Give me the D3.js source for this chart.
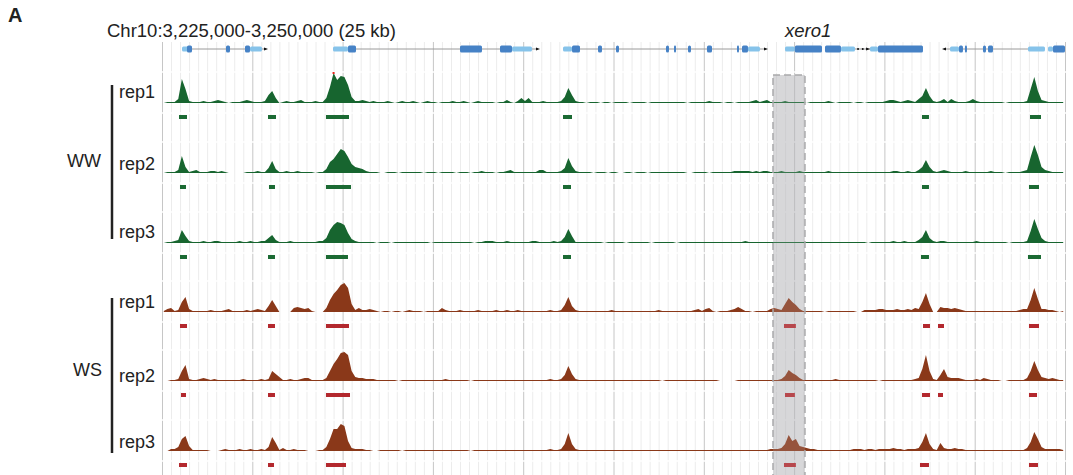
<!DOCTYPE html>
<html>
<head>
<meta charset="utf-8">
<script src="https://cdn.jsdelivr.net/npm/d3@7"></script>
<style>
  body { margin: 0; background: #fff; }
  svg { display: block; font-family: "Liberation Sans", Arial, sans-serif; }
</style>
</head>
<body>
<div id="chart"></div>
<script>
// region shown
const regionStart = 3225000, regionEnd = 3250000, binSize = 100

// coverage, 100 bp bins (250 per track)
const wwRep1 = [
  0,1,1,1,4,24,14,2,1,1, 1,2,1,1,2,3,2,1,0,1, 1,1,2,3,2,1,1,1,2,8, 12,5,0,1,2,1,1,2,3,1,
  1,1,2,1,1,5,16,30,23,27, 26,18,6,2,2,3,2,1,2,1, 1,1,2,1,0,1,2,1,1,2, 1,0,1,2,1,1,0,1,1,1,
  2,1,1,2,1,0,1,2,1,1, 1,1,0,1,1,3,1,0,2,5, 2,5,1,1,1,2,1,1,1,1, 2,6,15,8,2,1,1,0,1,1,
  1,0,1,1,0,1,1,1,1,0, 1,1,1,1,0,1,1,1,1,1, 1,1,1,1,1,0,1,1,1,1, 1,2,1,1,1,0,1,1,0,1,
  1,1,1,2,3,1,2,3,1,1, 1,1,2,1,1,1,1,1,0,1, 1,1,1,1,2,1,0,1,1,1, 1,0,1,1,0,1,1,1,1,1,
  2,3,3,2,1,2,3,2,1,4, 7,15,7,2,1,2,4,1,4,2, 1,1,1,2,4,2,1,1,1,1, 1,1,1,0,1,1,1,1,1,2,
  14,26,12,3,2,1,1,1,1,1
]
const wwRep2 = [
  0,1,1,1,3,17,6,1,2,3, 1,1,1,2,2,1,2,1,0,0, 0,0,0,1,1,1,2,1,1,5, 12,4,1,1,2,1,1,2,1,1,
  1,1,0,1,1,4,11,14,19,24, 22,16,9,6,5,4,2,1,1,1, 0,0,1,1,1,0,1,1,1,1, 1,1,0,1,1,1,0,1,1,1,
  1,0,1,1,1,0,1,1,2,1, 1,1,0,1,1,2,3,1,1,1, 1,1,1,1,3,3,1,1,1,1, 2,5,15,7,2,1,1,1,1,0,
  1,1,1,0,1,1,0,0,1,1, 0,1,1,1,0,1,1,1,1,1, 1,1,1,1,1,0,0,1,1,1, 1,0,1,1,1,1,1,1,2,2,
  2,2,2,1,2,1,2,2,1,1, 1,2,1,1,1,1,2,1,1,1, 1,1,1,1,2,1,1,1,1,1, 1,1,1,1,1,1,1,1,1,1,
  1,1,2,2,1,1,2,1,1,3, 6,13,6,2,1,2,3,2,1,1, 1,1,2,1,1,1,1,1,1,2, 1,1,1,0,1,1,1,1,2,3,
  16,28,18,6,3,2,1,1,1,1
]
const wwRep3 = [
  0,1,1,2,3,13,7,2,1,1, 1,2,1,1,2,2,1,1,1,1, 1,2,1,1,2,1,1,2,2,5, 8,3,1,1,1,2,1,1,1,1,
  1,1,1,2,2,5,13,18,21,20, 18,10,4,2,1,1,1,1,1,0, 1,1,1,0,1,1,1,1,1,1, 1,1,1,1,0,1,1,1,1,1,
  1,1,1,1,1,1,0,1,1,2, 2,2,1,1,1,2,1,1,1,1, 1,1,2,2,1,1,1,1,2,1, 2,6,14,7,1,1,1,1,1,1,
  1,1,0,1,1,1,1,1,0,1, 1,1,1,1,1,0,1,1,1,1, 1,1,0,1,1,1,1,1,1,1, 1,1,1,1,1,1,1,1,1,1,
  1,2,1,1,1,1,1,1,1,1, 1,1,1,1,1,1,1,1,1,1, 1,1,1,1,1,1,1,1,1,1, 1,1,1,1,1,0,1,1,1,1,
  1,1,2,1,1,2,1,1,1,3, 6,13,5,2,1,2,2,1,1,1, 1,1,1,1,1,2,1,1,1,1, 1,1,1,1,0,1,1,1,1,2,
  12,24,14,5,2,1,1,1,1,1
]
const wsRep1 = [
  1,3,4,1,2,10,15,3,1,1, 1,1,1,2,1,1,1,2,3,1, 1,1,1,2,1,2,3,2,1,6, 12,6,0,0,0,0,4,5,4,3,
  4,1,0,0,0,4,12,18,22,27, 29,24,8,2,4,2,2,3,2,1, 0,1,1,0,1,1,0,1,2,1, 1,1,0,1,1,1,1,4,2,1,
  1,1,2,1,1,1,1,2,1,1, 1,1,2,1,1,2,1,1,2,1, 1,1,1,1,1,1,1,2,1,1, 2,7,15,6,2,1,1,1,1,1,
  1,1,1,1,2,1,1,1,1,1, 1,1,1,1,1,1,1,2,1,1, 1,1,1,1,1,1,1,2,3,1, 3,4,1,0,1,1,1,2,3,5,
  3,1,1,0,1,1,1,1,3,4, 3,2,8,14,10,7,3,1,1,1, 1,1,1,0,1,1,1,1,1,1, 1,1,0,0,2,2,2,2,3,3,
  2,2,2,3,2,2,3,2,4,3, 10,19,8,0,0,5,4,4,3,4, 3,2,1,1,1,1,1,1,1,1, 1,1,1,1,1,1,1,2,3,3,
  12,24,13,3,3,2,2,1,0,1
]
const wsRep2 = [
  0,0,1,1,2,10,16,2,1,1, 2,3,2,1,2,1,1,1,1,1, 1,1,2,1,1,1,1,2,1,2, 10,7,4,1,1,2,1,1,2,3,
  3,1,1,1,1,3,10,17,22,28, 29,26,10,4,3,3,2,2,2,1, 1,1,1,1,1,0,1,1,1,1, 1,1,1,1,1,1,1,1,2,1,
  1,1,1,1,1,0,1,1,1,1, 1,1,1,1,1,1,1,1,1,1, 1,1,1,1,1,1,1,2,1,1, 2,6,15,7,2,1,1,1,1,1,
  1,1,1,1,1,1,1,1,1,1, 1,1,1,1,1,1,1,1,0,1, 1,1,1,1,1,1,1,1,1,1, 1,1,1,1,0,0,0,0,0,1,
  1,1,1,1,1,1,1,1,1,1, 1,2,5,11,8,6,3,1,1,1, 1,1,1,1,1,1,2,1,1,1, 1,1,1,1,1,1,1,1,0,1,
  1,1,1,1,1,1,1,1,2,3, 12,26,10,2,1,6,12,4,3,3, 3,2,1,1,1,2,1,3,2,1, 1,1,0,0,1,1,1,1,1,3,
  10,20,11,4,3,2,3,2,1,1
]
const wsRep3 = [
  0,0,2,2,4,12,15,5,1,1, 1,1,1,0,0,0,1,2,1,1, 1,2,1,1,2,1,1,2,1,4, 14,8,1,3,1,1,2,1,1,1,
  0,0,0,1,1,4,12,22,22,27, 25,10,3,2,2,2,1,1,0,0, 1,1,1,1,1,1,0,1,1,1, 1,1,1,1,1,1,1,1,1,1,
  1,1,1,1,1,0,1,1,1,1, 1,1,1,1,1,1,1,1,1,1, 1,1,1,1,1,1,1,2,1,1, 2,7,18,7,2,1,1,1,1,1,
  1,1,1,1,1,1,1,1,1,1, 1,1,1,1,1,1,1,1,1,1, 1,1,1,1,1,1,1,1,1,1, 1,1,1,1,1,1,1,1,1,1,
  1,1,1,1,1,1,1,1,2,2, 2,3,7,16,10,12,5,4,3,2, 2,1,1,1,1,1,1,1,1,1, 1,2,2,2,1,2,2,1,2,2,
  2,2,3,2,2,1,2,2,2,3, 9,18,7,2,1,8,3,2,2,3, 2,2,1,1,1,1,1,1,1,1, 1,1,1,1,1,1,1,1,1,3,
  9,19,12,4,2,2,2,2,2,1
]

// called peaks [start, end]
const wwRep1Peaks = [[3225471,3225692],[3227935,3228156],[3229540,3230177],[3236102,3236351],[3246041,3246234],[3249031,3249335]]
const wwRep2Peaks = [[3225498,3225664],[3227962,3228128],[3229540,3230232],[3236102,3236323],[3246041,3246234],[3249003,3249280]]
const wwRep3Peaks = [[3225498,3225692],[3227935,3228128],[3229540,3230149],[3236102,3236323],[3246013,3246234],[3248975,3249335]]
const wsRep1Peaks = [[3225498,3225692],[3227935,3228128],[3229540,3230177],[3242220,3242549],[3246069,3246262],[3246484,3246650],[3249003,3249280]]
const wsRep2Peaks = [[3225526,3225664],[3227935,3228128],[3229540,3230205],[3242248,3242521],[3246041,3246262],[3246484,3246622],[3249003,3249225]]
const wsRep3Peaks = [[3225471,3225692],[3227935,3228101],[3229540,3230094],[3242220,3242549],[3245985,3246234],[3249003,3249252]]

// gene models
const genes = [
  {line: [3225692,3227852], utrs: [[3225554,3225803],[3227436,3227769]],
   exons: [[3225692,3225831],[3226772,3226883],[3227298,3227436]], arrows: [[3227852,1]], dots: []},
  {line: [3230149,3235382], utrs: [[3229734,3230149],[3234690,3235243]],
   exons: [[3230149,3230371],[3233250,3233859],[3234358,3234690]], arrows: [[3235382,1]], dots: []},
  {line: [3236351,3241694], utrs: [[3236102,3236351],[3241223,3241555]],
   exons: [[3236351,3236572],[3237071,3237181],[3237569,3237652],[3238953,3239036],[3239175,3239230],
           [3239562,3239645],[3240088,3240227],[3240919,3240974],[3241057,3241223]], arrows: [[3241694,1]], dots: []},
  {line: [3243798,3244601], utrs: [[3242248,3242521],[3243798,3244186],[3244601,3244822]],
   exons: [[3242521,3243272],[3243355,3243798],[3244822,3246068]], arrows: [[3244520,1]], dots: [3244270,3244400]},
  {line: [3246677,3248975], utrs: [[3246816,3247065],[3248975,3249446]],
   exons: [[3247065,3247175],[3247230,3247286],[3247729,3247812],[3247868,3248006]], arrows: [[3246677,-1]], dots: []},
  {line: [3249529,3250000], utrs: [[3249529,3249667]], exons: [[3249667,3250000]], arrows: [], dots: []}
]
const highlight = [3241916,3242801]

const groups = ["WW", "WS"]
const tracks = [
  {group: "WW", rep: "rep1", values: wwRep1, peaks: wwRep1Peaks},
  {group: "WW", rep: "rep2", values: wwRep2, peaks: wwRep2Peaks},
  {group: "WW", rep: "rep3", values: wwRep3, peaks: wwRep3Peaks},
  {group: "WS", rep: "rep1", values: wsRep1, peaks: wsRep1Peaks},
  {group: "WS", rep: "rep2", values: wsRep2, peaks: wsRep2Peaks},
  {group: "WS", rep: "rep3", values: wsRep3, peaks: wsRep3Peaks}
]

const colors = {
  WW: {signal: "#17652f", peak: "#1b6a33"},
  WS: {signal: "#8a3819", peak: "#b3282e"}
}

const width = 1073, height = 475
const baselines = [103, 173, 243, 312, 381, 451]
const labelY = [98, 170, 238, 308, 382, 448]
const trackH = 30

const x = d3.scaleLinear().domain([regionStart, regionEnd]).range([162, 1065])

const svg = d3.select("#chart")
  .append("svg")
    .attr("width", width)
    .attr("height", height)

// grid
const grid = svg.append("g")
const gridPos = d3.range(regionStart, regionEnd + 1, 250)
grid.selectAll("line")
  .data(gridPos.filter(p => (p - regionStart) % 2500 != 0))
  .enter().append("line")
    .attr("x1", d => x(d) + 0.5).attr("x2", d => x(d) + 0.5)
    .attr("y1", 42).attr("y2", height)
    .style("stroke", "#ececec")
grid.selectAll(null)
  .data(gridPos.filter(p => (p - regionStart) % 2500 == 0))
  .enter().append("line")
    .attr("x1", d => x(d) + 0.5).attr("x2", d => x(d) + 0.5)
    .attr("y1", 42).attr("y2", height)
    .style("stroke", "#c6c6c6")

// panel breaks
baselines.forEach(b => {
  [b - 31, b + 10].forEach(yy => {
    svg.append("line")
      .attr("x1", 160).attr("x2", 1068)
      .attr("y1", yy).attr("y2", yy)
      .style("stroke", "#fff").style("stroke-width", 1.5)
  })
})

// highlight fill (under the signal)
const hx0 = x(highlight[0]), hx1 = x(highlight[1])
svg.append("rect")
  .attr("x", hx0).attr("y", 75)
  .attr("width", hx1 - hx0).attr("height", height - 75 + 2)
  .style("fill", "rgba(175,175,180,0.45)")

// gene track
const gy = 49
const geneG = svg.append("g")
genes.forEach(g => {
  geneG.append("line")
    .attr("x1", x(g.line[0])).attr("x2", x(g.line[1]))
    .attr("y1", gy).attr("y2", gy)
    .style("stroke", "#9a9a9a").style("stroke-width", 1)
  geneG.selectAll(null).data(g.utrs).enter().append("rect")
    .attr("x", d => x(d[0])).attr("width", d => x(d[1]) - x(d[0]))
    .attr("y", gy - 2.5).attr("height", 5).attr("rx", 1.5)
    .style("fill", "#86c3ea")
  geneG.selectAll(null).data(g.exons).enter().append("rect")
    .attr("x", d => x(d[0])).attr("width", d => x(d[1]) - x(d[0]))
    .attr("y", gy - 3.5).attr("height", 7).attr("rx", 1.5)
    .style("fill", "#4682c6")
  geneG.selectAll(null).data(g.arrows).enter().append("path")
    .attr("d", d => {
      const px = x(d[0])
      return "M" + (px + 3 * d[1]) + "," + gy + "L" + (px - 1 * d[1]) + "," + (gy - 1.6) + "L" + (px - 1 * d[1]) + "," + (gy + 1.6) + "Z"
    })
    .style("fill", "#111")
  geneG.selectAll(null).data(g.dots).enter().append("circle")
    .attr("cx", d => x(d)).attr("cy", gy).attr("r", 1)
    .style("fill", "#111")
})

// signal tracks
tracks.forEach((t, i) => {
  const b = baselines[i]
  const y = d3.scaleLinear().domain([0, trackH]).range([b, b - trackH]).clamp(true)
  const g = svg.append("g")
  const bins = t.values.map((v, j) => ({pos: regionStart + j * binSize + binSize / 2, v: v}))
  const area = d3.area()
    .x(d => x(d.pos))
    .y0(b)
    .y1(d => y(d.v))
  g.append("path")
    .datum(bins)
    .attr("d", area)
    .style("fill", colors[t.group].signal)
  // clipped values
  g.selectAll(null)
    .data(bins.filter(d => d.v >= trackH))
    .enter().append("rect")
      .attr("x", d => x(d.pos) - 1)
      .attr("width", 2)
      .attr("y", b - trackH - 1)
      .attr("height", 2)
      .style("fill", "#e8261c")
  // peaks
  g.selectAll(null)
    .data(t.peaks)
    .enter().append("rect")
      .attr("x", d => x(d[0]))
      .attr("width", d => x(d[1]) - x(d[0]))
      .attr("y", b + 12)
      .attr("height", 4)
      .style("fill", colors[t.group].peak)
  svg.append("text")
    .attr("x", 119)
    .attr("y", labelY[i])
    .style("font-size", "18px")
    .style("fill", "#222")
    .text(t.rep)
})

// highlight border
svg.append("rect")
  .attr("x", hx0).attr("y", 75)
  .attr("width", hx1 - hx0).attr("height", height - 75 + 2)
  .style("fill", "rgba(200,200,204,0.2)")
  .style("stroke", "#a9a9ab")
  .style("stroke-width", 1.5)
  .style("stroke-dasharray", "7,4")

// group brackets
const brackets = [[85, 239, 167, 67], [298, 453, 376, 73]]
groups.forEach((gname, i) => {
  const br = brackets[i]
  svg.append("line")
    .attr("x1", 112).attr("x2", 112)
    .attr("y1", br[0]).attr("y2", br[1])
    .style("stroke", "#222").style("stroke-width", 2.5)
  svg.append("text")
    .attr("x", br[3]).attr("y", br[2])
    .style("font-size", "18px").style("fill", "#222")
    .text(gname)
})

// titles
svg.append("text")
  .attr("x", 107).attr("y", 37)
  .style("font-size", "18.5px").style("fill", "#222")
  .text("Chr10:3,225,000-3,250,000 (25 kb)")
svg.append("text")
  .attr("x", 785).attr("y", 37)
  .style("font-size", "18.5px").style("font-style", "italic").style("fill", "#222")
  .text("xero1")
svg.append("text")
  .attr("x", 8).attr("y", 22)
  .style("font-size", "20px").style("font-weight", "bold").style("fill", "#222")
  .text("A")
</script>
</body>
</html>
